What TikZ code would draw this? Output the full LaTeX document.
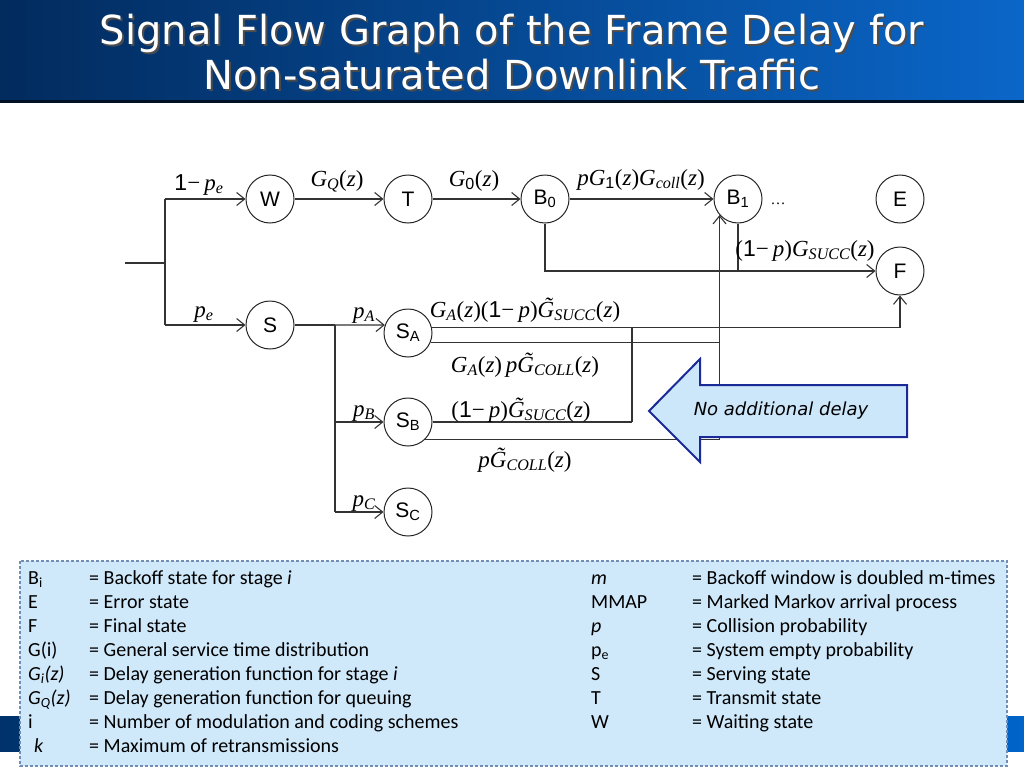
\documentclass[tikz,border=0pt]{standalone}
\usepackage{fontspec}
\usetikzlibrary{arrows.meta}
\newfontfamily\tms{Liberation Serif}
\newfontfamily\ars{Liberation Sans}
\newfontfamily\carl{Carlito}
\newfontfamily\dvs{DejaVu Sans}
\newcommand\mI[1]{{\tms\itshape #1}}
\newcommand\mR[1]{{\ars #1}}
\newcommand\mS[1]{\textsubscript{#1}}
\newcommand\mM{{\tms −}\kern.18em}
\newcommand\pz{{\tms(}\mI{z}{\tms)}}
\newcommand\tG{\mI{G^^^^0303}}
\definecolor{titleL}{HTML}{022B5E}
\definecolor{titleR}{HTML}{0A66C8}
\definecolor{barL}{HTML}{00336B}
\definecolor{barR}{HTML}{0064C8}
\definecolor{legfill}{HTML}{CFE8FA}
\definecolor{legline}{HTML}{6F8DB5}
\definecolor{arrfill}{HTML}{CCE6FA}
\definecolor{arrline}{HTML}{1A2A96}
\tikzset{
  state/.style={circle,draw=black!85,line width=1pt,minimum size=48pt,inner sep=0pt,
    font=\ars\fontsize{21}{25}\selectfont},
  lab/.style={inner sep=0pt,anchor=base,font=\fontsize{23}{27}\selectfont},
  wire/.style={draw=black!80,line width=1.1pt},
  arr/.style={wire,-{Straight Barb[length=8pt,width=13pt,line width=1.1pt]}},
  legtxt/.style={inner sep=0pt,anchor=base west,font=\carl\fontsize{20}{24}\selectfont},
  ttl/.style={inner sep=0pt,anchor=base,font=\dvs\fontsize{40}{44}\selectfont}
}
\begin{document}
\begin{tikzpicture}[x=1pt,y=-1pt]
\useasboundingbox (0,0) rectangle (1024,768);
% title bar
\shade[left color=titleL,right color=titleR] (0,0) rectangle (1024,102);
\fill[black!60!titleL] (0,100) rectangle (1024,102.5);
\node[ttl,text=black!70] (t1s) at (514,47) {Signal Flow Graph of the Frame Delay for};
\node[ttl,text=black!70] (t2s) at (514,91) {Non-saturated Downlink Traffic};
\node[ttl,text=white] (t1) at (512,45) {Signal Flow Graph of the Frame Delay for};
\node[ttl,text=white] (t2) at (512,89) {Non-saturated Downlink Traffic};
% bottom bar
\shade[left color=barL,right color=barR] (0,716) rectangle (1024,751);
% states
\node[state] (W) at (270,199) {W};
\node[state] (T) at (408,199) {T};
\node[state] (B0) at (545,199) {B\textsubscript{0}};
\node[state] (B1) at (738,199) {B\textsubscript{1}};
\node[state] (E) at (900,199) {E};
\node[state] (F) at (900,271) {F};
\node[state] (S) at (270,325) {S};
\node[state] (SA) at (408,333) {S\textsubscript{A}};
\node[state] (SB) at (408,422) {S\textsubscript{B}};
\node[state] (SC) at (408,512) {S\textsubscript{C}};
\node[inner sep=0pt,anchor=base,font=\tms\fontsize{15}{18}\selectfont] (dots) at (778,204) {…};
% coordinates
\coordinate (in) at (125,263);
\coordinate (j1) at (165,263);
\coordinate (jt) at (165,199);
\coordinate (jb) at (165,325);
\coordinate (b0d) at (545,271);
\coordinate (b1d) at (738,271);
\coordinate (s1) at (335,325);
\coordinate (s2) at (335,422);
\coordinate (s3) at (335,512);
\coordinate (m) at (632,0);
% wires
\draw[wire] (in) -- (j1);
\draw[wire] (jt) -- (jb);
\draw[arr] (jt) -- (W);
\draw[arr] (jb) -- (S);
\draw[arr] (W) -- (T);
\draw[arr] (T) -- (B0);
\draw[arr] (B0) -- (B1);
\draw[arr] (B0.south) -- (b0d) -- (F);
\draw[wire] (B1.south) -- (b1d);
\draw[wire] (S) -- (s1);
\draw[wire] (s1) -- (s3);
\draw[arr] (s1) -- (SA.161);
\draw[arr] (s2) -- (SB);
\draw[arr] (s3) -- (SC);
\draw[arr] (SA.14) -- (SA.14 -| F.south) -- (F.south);
\draw[wire] (SA.-22) -- (SA.-22 -| B1.221);
\draw[wire] (SA.14 -| m) -- (SB.east -| m);
\draw[wire] (SB.east) -- (SB.east -| m);
\draw[arr] (SB.-45) -- (SB.-45 -| B1.221) -- (B1.221);
% labels
\node[lab] (l1) at (199,190) {\mR{1}\mM\mI{p}\mS{\mI{e}}};
\node[lab] (lQ) at (337,186) {\mI{G}\mS{\mI{Q}}\pz};
\node[lab] (l0) at (474,186) {\mI{G}\mS{\mR{0}}\pz};
\node[lab] (l01) at (641,185) {\mI{pG}\mS{\mR{1}}\pz\mI{G}\mS{\mI{coll}}\pz};
\node[lab] (lsucc) at (805,256) {{\tms(}\mR{1}\mM\mI{p}{\tms)}\mI{G}\mS{\mI{SUCC}}\pz};
\node[lab] (lpe) at (204,317) {\mI{p}\mS{\mI{e}}};
\node[lab] (lpA) at (364,318) {\mI{p}\mS{\mI{A}}};
\node[lab] (lpB) at (364,416) {\mI{p}\mS{\mI{B}}};
\node[lab] (lpC) at (364,506) {\mI{p}\mS{\mI{C}}};
\node[lab] (lA1) at (525,317) {\mI{G}\mS{\mI{A}}\pz{\tms(}\mR{1}\mM\mI{p}{\tms)}\tG\mS{\mI{SUCC}}\pz};
\node[lab] (lA2) at (525,372) {\mI{G}\mS{\mI{A}}\pz\,\mI{p}\tG\mS{\mI{COLL}}\pz};
\node[lab] (lB1) at (521,417) {{\tms(}\mR{1}\mM\mI{p}{\tms)}\tG\mS{\mI{SUCC}}\pz};
\node[lab] (lB2) at (525,467) {\mI{p}\tG\mS{\mI{COLL}}\pz};
% big arrow
\draw[fill=arrfill,draw=arrline,line width=2pt,line join=miter]
  (649,411) -- (700,359) -- (700,385) -- (907,385) -- (907,437) -- (700,437) -- (700,462) -- cycle;
\node[inner sep=0pt,font=\dvs\itshape\fontsize{18}{22}\selectfont] (nad) at (781,411) {No additional delay};
% legend
\draw[fill=legfill,draw=legline,line width=1.1pt,dash pattern=on 3pt off 2pt] (20,561) rectangle (1007,766);
\node[legtxt] (a1) at (28,584) {B\textsubscript{i}};
\node[legtxt] (a2) at (28,608) {E};
\node[legtxt] (a3) at (28,632) {F};
\node[legtxt] (a4) at (28,656) {G(i)};
\node[legtxt] (a5) at (28,680) {\textit{G\textsubscript{i}(z)}};
\node[legtxt] (a6) at (28,704) {\textit{G\textsubscript{Q}(z)}};
\node[legtxt] (a7) at (28,728) {i};
\node[legtxt] (a8) at (34,752) {\textit{k}};
\node[legtxt] (d1) at (89,584) {= Backoff state for stage \textit{i}};
\node[legtxt] (d2) at (89,608) {= Error state};
\node[legtxt] (d3) at (89,632) {= Final state};
\node[legtxt] (d4) at (89,656) {= General service time distribution};
\node[legtxt] (d5) at (89,680) {= Delay generation function for stage \textit{i}};
\node[legtxt] (d6) at (89,704) {= Delay generation function for queuing};
\node[legtxt] (d7) at (89,728) {= Number of modulation and coding schemes};
\node[legtxt] (d8) at (89,752) {= Maximum of retransmissions};
\node[legtxt] (b1) at (591,584) {\textit{m}};
\node[legtxt] (b2) at (591,608) {MMAP};
\node[legtxt] (b3) at (591,632) {\textit{p}};
\node[legtxt] (b4) at (591,656) {p\textsubscript{e}};
\node[legtxt] (b5) at (591,680) {S};
\node[legtxt] (b6) at (591,704) {T};
\node[legtxt] (b7) at (591,728) {W};
\node[legtxt] (e1) at (692,584) {= Backoff window is doubled m-times};
\node[legtxt] (e2) at (692,608) {= Marked Markov arrival process};
\node[legtxt] (e3) at (692,632) {= Collision probability};
\node[legtxt] (e4) at (692,656) {= System empty probability};
\node[legtxt] (e5) at (692,680) {= Serving state};
\node[legtxt] (e6) at (692,704) {= Transmit state};
\node[legtxt] (e7) at (692,728) {= Waiting state};
\end{tikzpicture}
\end{document}
